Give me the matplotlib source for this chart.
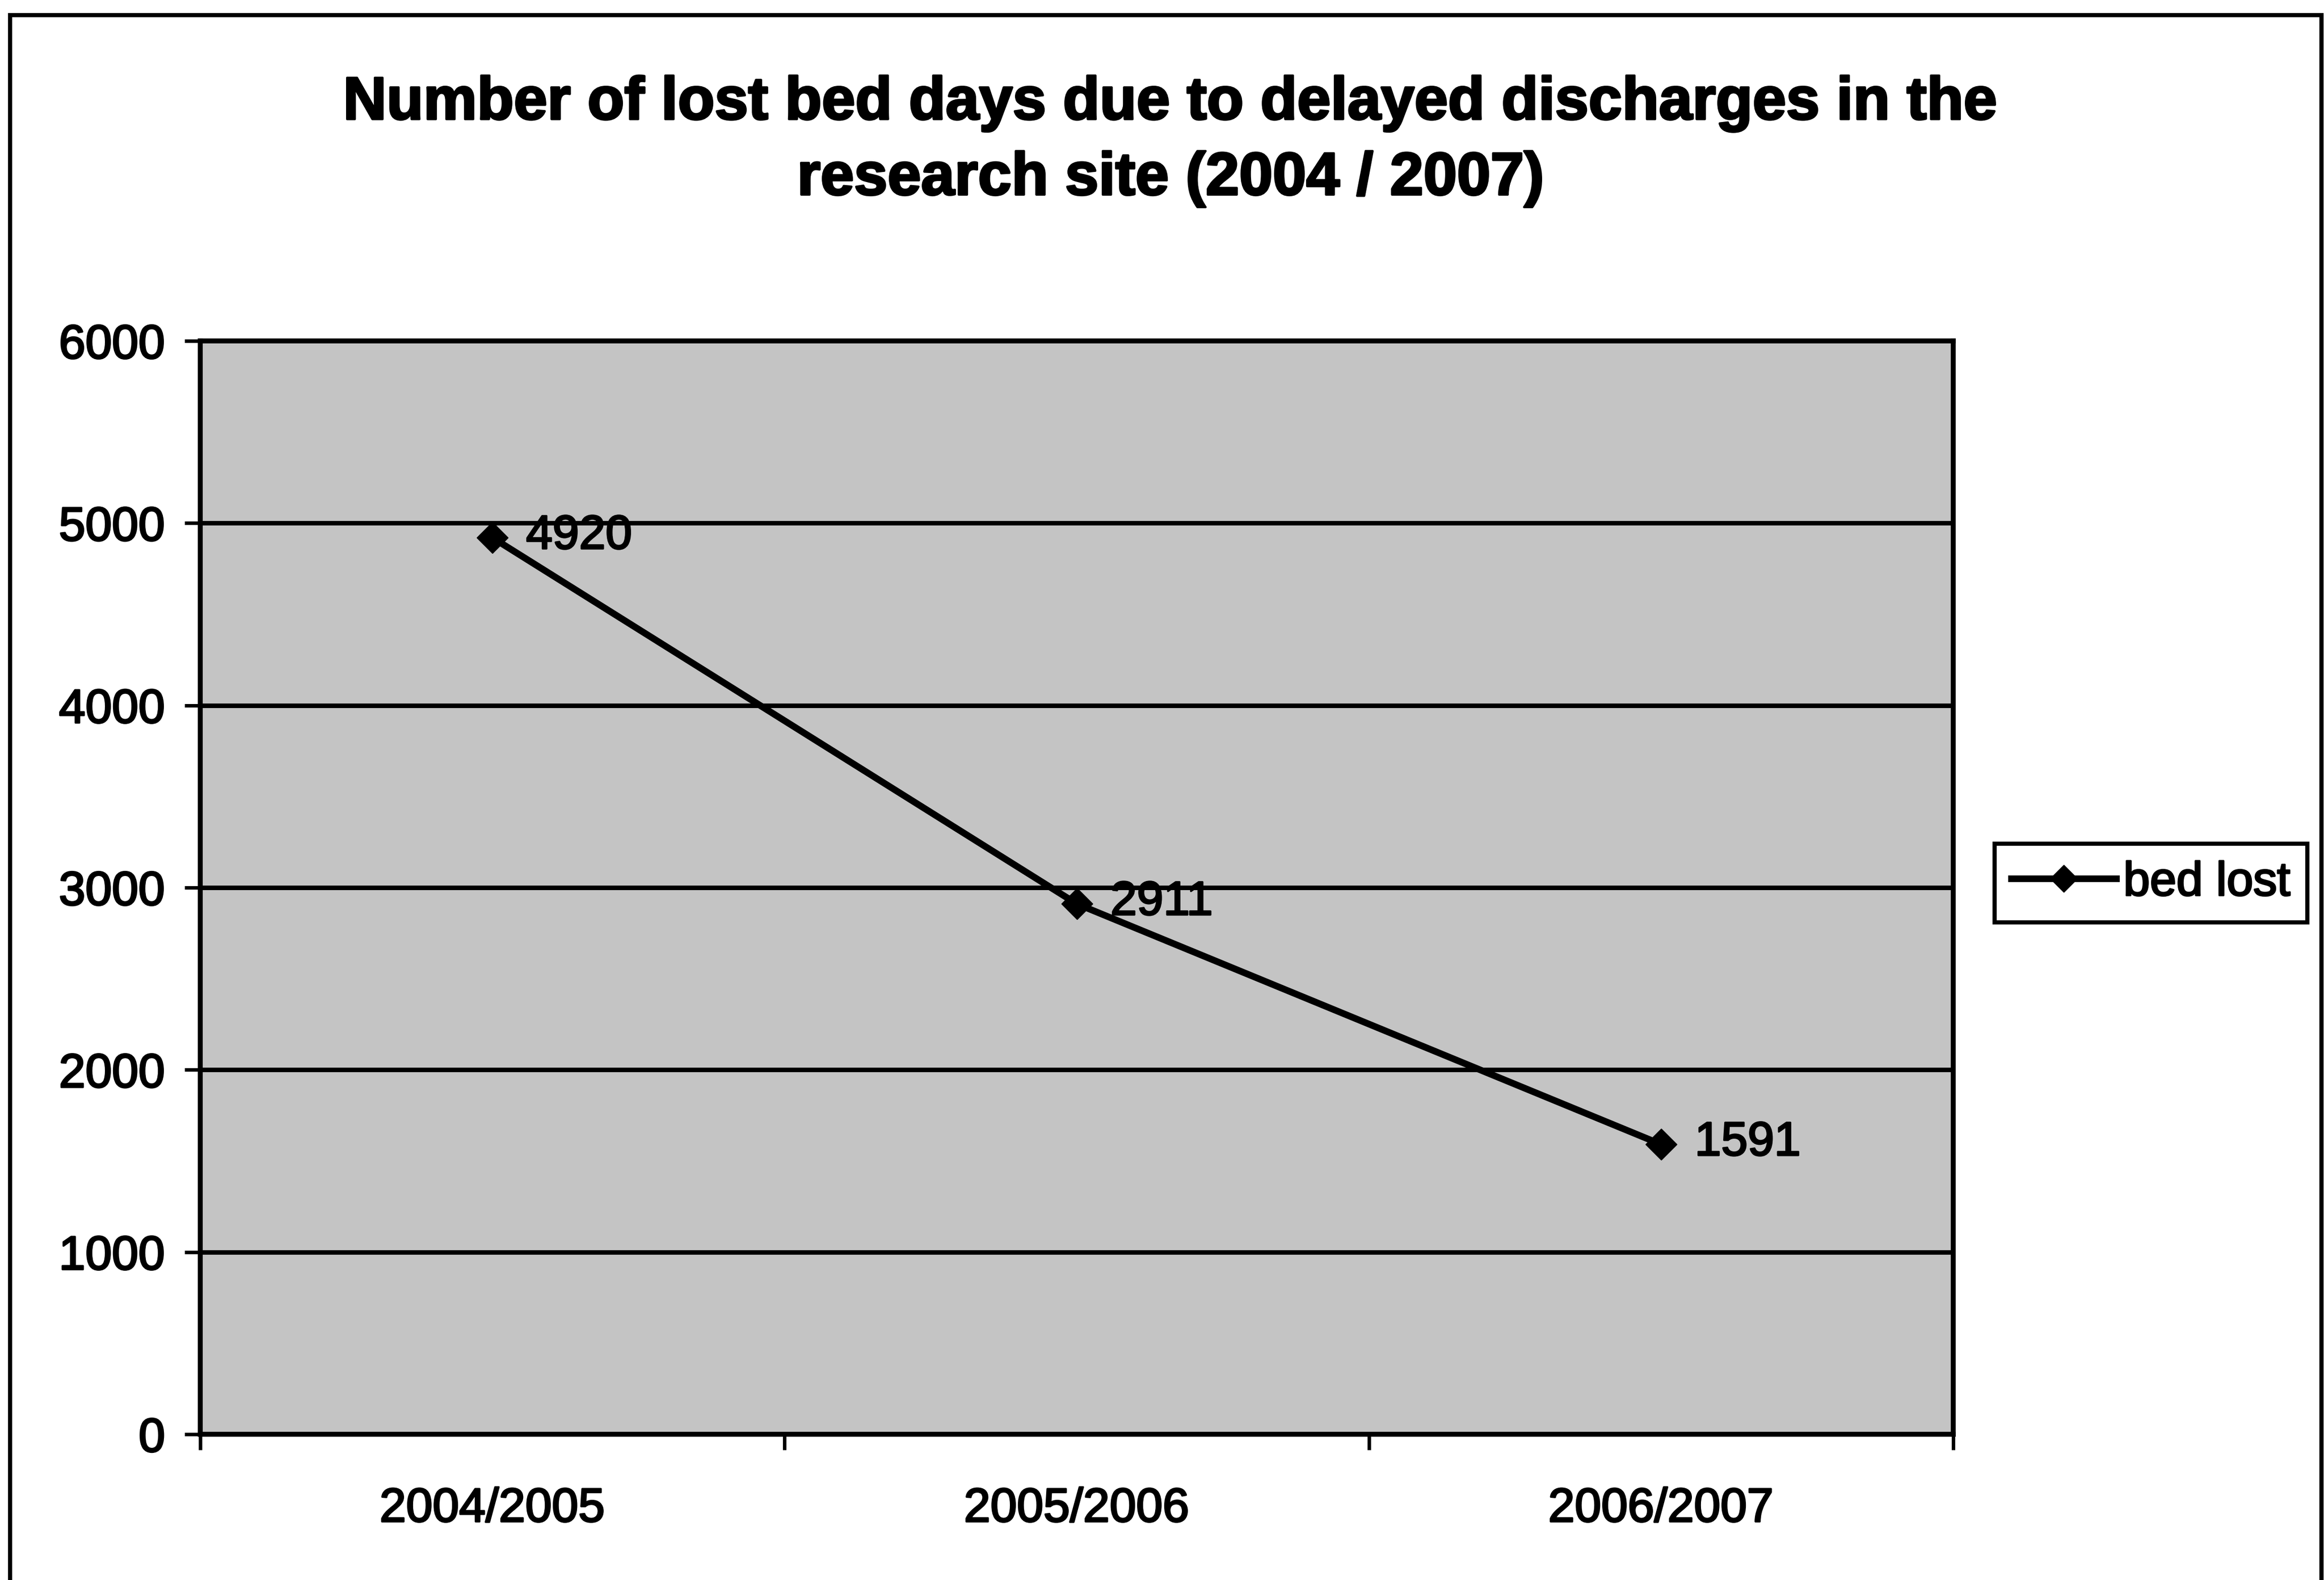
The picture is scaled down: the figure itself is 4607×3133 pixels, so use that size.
import matplotlib
matplotlib.use("Agg")
import matplotlib.pyplot as plt
from matplotlib.patches import Rectangle
import matplotlib.patheffects as pe

# ---- data ----
categories = ["2004/2005", "2005/2006", "2006/2007"]
bed_lost = [4920, 2911, 1591]
y_ticks = [0, 1000, 2000, 3000, 4000, 5000, 6000]
series_name = "bed lost"
title = "Number of lost bed days due to delayed discharges in the\nresearch site (2004 / 2007)"

plt.rcParams['font.family'] = ['Liberation Sans', 'DejaVu Sans']

W, H = 4607, 3133
DPI = 100
fig = plt.figure(figsize=(W / DPI, H / DPI), dpi=DPI, facecolor='white')

thick = [pe.withStroke(linewidth=2.5, foreground='black')]

# outer chart frame (bottom edge runs off the page)
fig.add_artist(Rectangle((20 / W, -0.05), (4602 - 20) / W, (1 + 0.05) - 30 / H,
                         transform=fig.transFigure, fill=False,
                         edgecolor='black', linewidth=6, zorder=0))

ax = fig.add_axes([397 / W, 1 - 2844 / H, (3872 - 397) / W, (2844 - 676) / H])
ax.set_facecolor('#c4c4c4')

x = list(range(len(categories)))
ax.plot(x, bed_lost, color='black', linewidth=9.5, marker='D', markersize=32,
        markeredgewidth=1, label=series_name, zorder=4)

for xi, v in zip(x, bed_lost):
    ax.annotate(str(v), (xi, v), xytext=(48, 2), textcoords='offset points',
                ha='left', va='center', fontsize=68, color='black', zorder=5,
                path_effects=thick)

ax.set_xlim(-0.5, len(categories) - 0.5)
ax.set_ylim(y_ticks[0], y_ticks[-1])
ax.set_yticks(y_ticks)
ax.set_yticklabels([str(t) for t in y_ticks])
ax.set_xticks(x)
ax.set_xticklabels(categories)
ax.set_xticks([i - 0.5 for i in range(len(categories) + 1)], minor=True)

ax.tick_params(axis='x', which='major', length=0, pad=75, labelsize=68)
ax.tick_params(axis='x', which='minor', length=22, width=5, direction='out')
ax.tick_params(axis='y', which='major', length=22, width=5, direction='out',
               pad=28, labelsize=68)
for lab in ax.get_xticklabels() + ax.get_yticklabels():
    lab.set_path_effects(thick)

ax.yaxis.grid(True, color='black', linewidth=6.5)
ax.set_axisbelow(True)
for s in ax.spines.values():
    s.set_linewidth(7)
    s.set_color('black')

fig.text(2321 / W, 1 - 386 / H, title, ha='center', va='baseline',
         fontsize=86, fontweight='bold', linespacing=1.45,
         path_effects=[pe.withStroke(linewidth=3, foreground='black')])

leg = fig.legend(loc='center', bbox_to_anchor=(4264 / W, 1 - 1751 / H),
                 fontsize=68, frameon=True, fancybox=False, edgecolor='black',
                 framealpha=1, handlelength=2.2, handletextpad=0.15,
                 borderpad=0.35, markerscale=0.85, borderaxespad=0)
leg.get_frame().set_linewidth(6)
for t in leg.get_texts():
    t.set_path_effects(thick)

fig.savefig("out.png", dpi=DPI, facecolor='white')
